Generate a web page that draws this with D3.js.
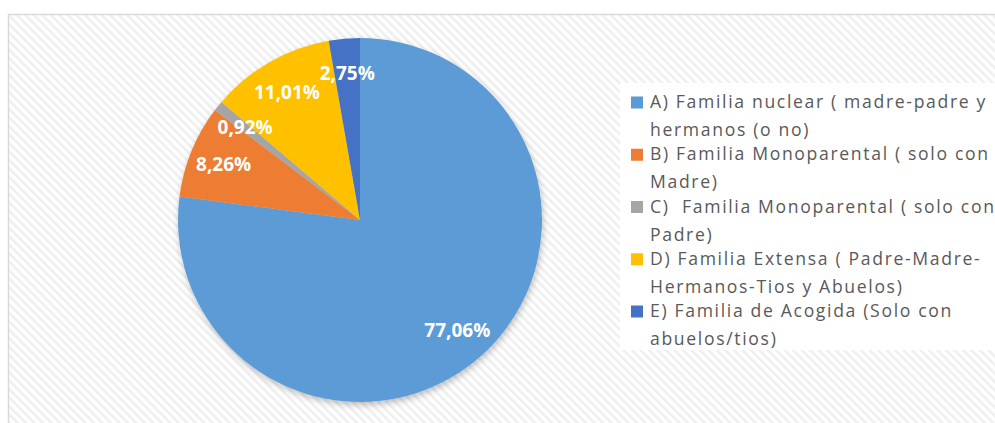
<!DOCTYPE html>
<html><head><meta charset="utf-8">
<script src="https://cdn.jsdelivr.net/npm/d3@7/dist/d3.min.js"></script>
<style>html,body{margin:0;padding:0;background:#fff;overflow:hidden}</style>
</head><body>
<svg id="chart" width="995" height="423"></svg>
<script>
const categories = [
  "A) Familia nuclear ( madre-padre y|hermanos (o no)",
  "B) Familia Monoparental ( solo con|Madre)",
  "C)  Familia Monoparental ( solo con|Padre)",
  "D) Familia Extensa ( Padre-Madre-|Hermanos-Tios y Abuelos)",
  "E) Familia de Acogida (Solo con|abuelos/tios)"
];
const values = [77.06, 8.26, 0.92, 11.01, 2.75];
const labels = ["77,06%", "8,26%", "0,92%", "11,01%", "2,75%"];
const colors = ["#5B9BD5", "#ED7D31", "#A5A5A5", "#FFC000", "#4472C4"];

const svg = d3.select("#chart");
const defs = svg.append("defs");
const pat = defs.append("pattern").attr("id","hatch").attr("patternUnits","userSpaceOnUse")
  .attr("width",6).attr("height",6).attr("patternTransform","rotate(-45)");
pat.append("rect").attr("width",6).attr("height",6).attr("fill","#ffffff");
pat.append("rect").attr("x",0).attr("width",2.6).attr("height",6).attr("fill","#efefef");
const f = defs.append("filter").attr("id","shadow").attr("x","-20%").attr("y","-20%").attr("width","140%").attr("height","140%");
f.append("feDropShadow").attr("dx",1).attr("dy",3).attr("stdDeviation",3).attr("flood-color","#000").attr("flood-opacity",0.25);

// chart area
svg.append("rect").attr("x",8.5).attr("y",14.5).attr("width",1000).attr("height",420)
  .attr("fill","url(#hatch)").attr("stroke","#d9d9d9").attr("stroke-width",1.5);

const cx = 360, cy = 220, r = 182;
const pie = d3.pie().sort(null).value(d => d)(values);
const arc = d3.arc().innerRadius(0).outerRadius(r);
const labelArc = d3.arc().innerRadius(r*0.81).outerRadius(r*0.81);

const g = svg.append("g").attr("transform",`translate(${cx},${cy})`);
g.append("g").attr("filter","url(#shadow)").selectAll("path").data(pie).join("path")
  .attr("d", arc).attr("fill",(d,i)=>colors[i]);

g.selectAll("text.lbl").data(pie).join("text").attr("class","lbl")
  .attr("transform", d => `translate(${labelArc.centroid(d)})`)
  .attr("text-anchor","middle").attr("dy","0.35em")
  .attr("font-family","'Open Sans', sans-serif").attr("font-weight","bold")
  .attr("font-size",19).attr("fill","#fff")
  .text((d,i)=>labels[i]);

// legend
svg.append("rect").attr("x",620).attr("y",83).attr("width",380).attr("height",267).attr("fill","#fff");
const lg = svg.append("g").attr("font-family","'Open Sans', sans-serif").attr("fill","#595959");
const entryGap = 52.25, lineGap = 28, y0 = 108, fs = 17.6;
const lines = [];
categories.forEach((c,i)=>{
  const y = y0 + i*entryGap;
  lg.append("rect").attr("x",631).attr("y",y-11.5).attr("width",12).attr("height",12).attr("fill",colors[i]);
  c.split("|").forEach((line,j)=>{
    lines.push(lg.append("text").attr("x",650).attr("y",y+j*lineGap).attr("font-size",fs)
      .style("white-space","pre").text(line));
  });
});
// letter-spacing so the first line spans like the reference
const first = lines[0];
const w = first.node().getComputedTextLength();
const n = first.text().length;
const ls = (337 - w) / n;
lines.forEach(t => t.attr("letter-spacing", ls));
</script>
</body></html>
